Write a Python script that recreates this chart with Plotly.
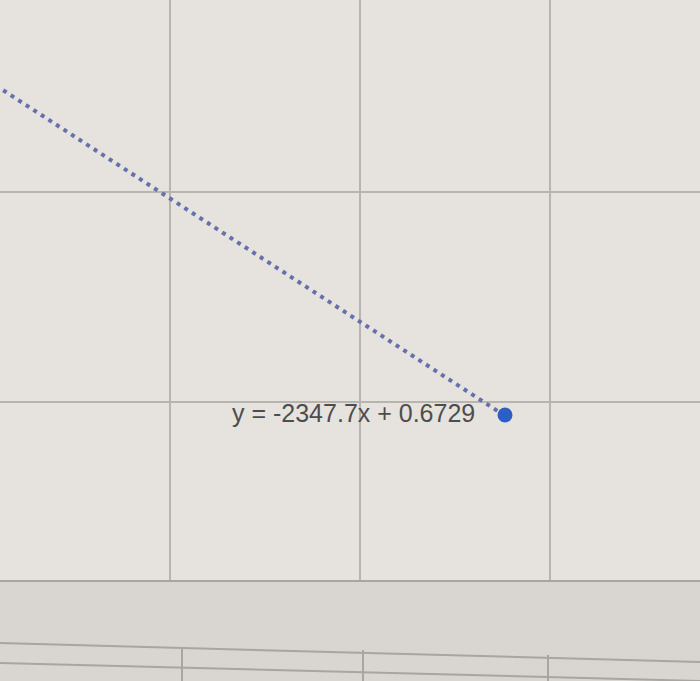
import plotly.graph_objects as go

# ---- data ----
slope = -2347.7
intercept = 0.6729
point_x = [0.00336]
point_y = [-7.215]
trend_x = [0.00329, 0.00336]
trend_y = [slope * x + intercept for x in trend_x]
label = "y = -2347.7x + 0.6729"

# ---- layout geometry (pixels of the 700x681 view) ----
W, H = 700, 681
plot_bottom = 580
xpp = 0.000025 / 190   # x units per pixel
ypp = 0.1 / 210        # y units per pixel
pt_px, pt_py = 505, 415

x0 = point_x[0] - pt_px * xpp
x1 = x0 + W * xpp
ytop = point_y[0] + pt_py * ypp
ybot = ytop - plot_bottom * ypp
xtick0 = point_x[0] - (pt_px - 360) * xpp
ytick0 = point_y[0] + (pt_py - 402) * ypp

fig = go.Figure()
fig.add_trace(go.Scatter(
    x=trend_x, y=trend_y, mode="lines",
    line=dict(color="#6670aa", width=4, dash="4px,5px"),
    hoverinfo="skip", showlegend=False))
fig.add_trace(go.Scatter(
    x=point_x, y=point_y, mode="markers",
    marker=dict(color="#2c5ec6", size=15),
    showlegend=False))

fig.add_annotation(
    x=point_x[0], y=point_y[0], text=label, showarrow=False,
    xanchor="right", yanchor="middle", xshift=-28, yshift=2,
    font=dict(family="Liberation Sans", size=25, color="#4d4d4d"))

def py(p):
    return 1 - p / H

grid = "#b8b4b0"
shapes = [
    dict(type="line", xref="paper", yref="paper", x0=0, x1=1, y0=py(643), y1=py(662),
         line=dict(color="#a9a5a1", width=2)),
    dict(type="line", xref="paper", yref="paper", x0=0, x1=1, y0=py(663), y1=py(681),
         line=dict(color="#a9a5a1", width=2)),
]
for xs, ys in [(182, 647), (363, 650), (548, 655)]:
    shapes.append(dict(type="line", xref="paper", yref="paper", x0=xs / W, x1=xs / W,
                       y0=py(ys), y1=0, line=dict(color="#a9a5a1", width=2)))

fig.update_layout(
    width=W, height=H,
    margin=dict(l=0, r=0, t=0, b=0),
    paper_bgcolor="#d9d6d1",
    plot_bgcolor="#e6e3df",
    shapes=shapes,
    xaxis=dict(range=[x0, x1], showgrid=True, gridcolor=grid, gridwidth=2,
               tick0=xtick0, dtick=0.000025, showticklabels=False, ticks="",
               zeroline=False, showline=True, linecolor="#a9a5a1", linewidth=2),
    yaxis=dict(range=[ybot, ytop], domain=[(H - plot_bottom) / H, 1],
               showgrid=True, gridcolor=grid, gridwidth=2,
               tick0=ytick0, dtick=0.1, showticklabels=False, ticks="",
               zeroline=False, showline=False),
)

fig.write_html("out.html", config={"displayModeBar": False},
               post_script="document.body.style.margin='0';")
